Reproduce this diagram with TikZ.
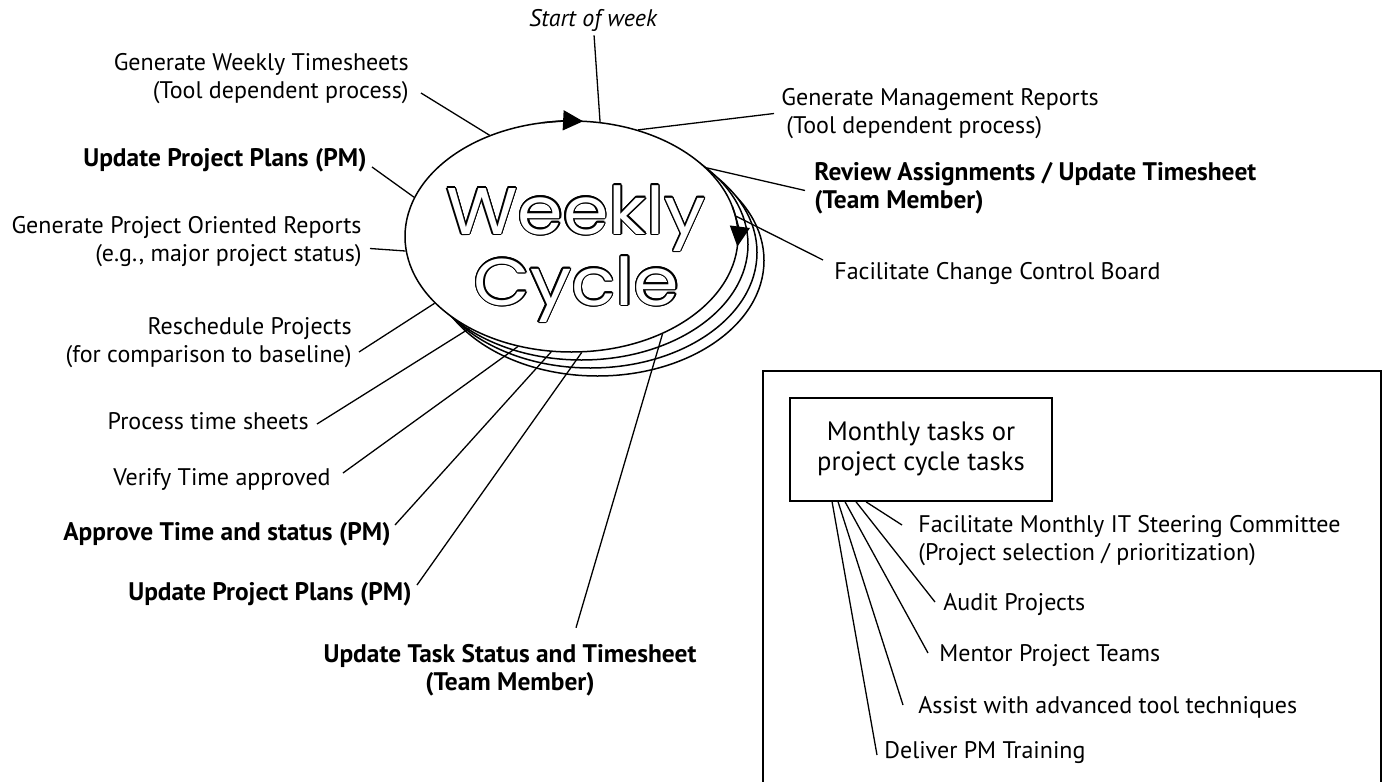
\documentclass[tikz,border=0pt]{standalone}
\usepackage{fontspec}
\setmainfont{PT Sans}
\newfontfamily\cyclefont[FakeStretch=1.11]{Poppins}
\usepackage{contour}
\contourlength{0.7pt}
\usetikzlibrary{shapes.geometric,arrows.meta}
\begin{document}
\begin{tikzpicture}[x=0.5pt,y=-0.5pt,
  task/.style={inner sep=2pt,font=\fontsize{12}{14}\selectfont},
  pmtask/.style={task,font=\fontsize{12.7}{14}\selectfont\bfseries},
  lead/.style={line width=0.65pt},
  rim/.style={line width=0.75pt,fill=white},
  turn/.style={line width=0.75pt,-{Triangle[length=10pt,width=10pt]}},
  bigword/.style={anchor=base,inner sep=0pt,font=\cyclefont\fontsize{33}{35}\selectfont}]
\useasboundingbox (0,0) rectangle (1382,782);
\coordinate (mid) at (571.5,236.5);
\draw[rim] ([shift={(26,24)}]mid) ellipse [x radius=83.25pt,y radius=57.75pt];
\draw[rim] ([shift={(19,16)}]mid) ellipse [x radius=83.25pt,y radius=57.75pt];
\draw[rim] ([shift={(10,8)}]mid) ellipse [x radius=83.25pt,y radius=57.75pt];
\node[ellipse,draw,rim,minimum width=166.5pt,minimum height=115.5pt,inner sep=0pt] (cycle) at (mid) {};
\draw[turn] ([shift={(100:83.25pt and 57.75pt)}]mid) arc [start angle=100,end angle=86,x radius=83.25pt,y radius=57.75pt];
\draw[turn] ([shift={(15:83.25pt and 57.75pt)}]mid) arc [start angle=15,end angle=-5,x radius=83.25pt,y radius=57.75pt];
\node[bigword] (wkly) at (576,234) {\contour{black}{\textcolor{white}{Weekly}}};
\node[bigword] (cycl) at (576.5,305) {\contour{black}{\textcolor{white}{Cycle}}};
\node[task] (wk) at (593,20) {\itshape Start of week};
\node[task,anchor=east,align=right] (gwt) at (413,79) {Generate Weekly Timesheets\\(Tool dependent process)};
\node[pmtask,anchor=east] (upp) at (371,160) {Update Project Plans (PM)};
\node[task,anchor=east,align=right] (gpor) at (366,241.5) {Generate Project Oriented Reports\\(e.g., major project status)};
\node[task,anchor=east,align=right] (resch) at (356,343) {Reschedule Projects\\(for comparison to baseline)};
\node[task,anchor=east] (pts) at (313,421) {Process time sheets};
\node[task,anchor=east] (vta) at (335,479) {Verify Time approved};
\node[pmtask,anchor=east] (ats) at (395,534) {Approve Time and status (PM)};
\node[pmtask,anchor=east] (upp2) at (416,594) {Update Project Plans (PM)};
\node[pmtask,align=center] (uts) at (510,670) {Update Task Status and Timesheet\\(Team Member)};
\node[task,anchor=west,align=left] (gmr) at (777,113.5) {Generate Management Reports\\\hspace*{2.5pt}(Tool dependent process)};
\node[pmtask,anchor=west,align=left] (rev) at (810,188.5) {Review Assignments / Update Timesheet\\(Team Member)};
\node[task,anchor=west] (ccb) at (830,273) {Facilitate Change Control Board};
\draw[lead] (wk) -- (cycle.76);
\draw[lead] ([shift={(8,14)}]gwt.east) -- (cycle.129);
\draw[lead] ([shift={(1,7)}]upp.east) -- (cycle.166);
\draw[lead] ([shift={(4,7)}]gpor.east) -- (cycle.185);
\draw[lead] ([shift={(3,9)}]resch.east) -- (cycle.206);
\draw[lead] ([shift={(4,3)}]pts.east) -- (cycle.222);
\draw[lead] ([shift={(8,-6)}]vta.east) -- (cycle.244);
\draw[lead] ([shift={(0,-9)}]ats.east) -- (cycle.260);
\draw[lead] ([shift={(1,-9)}]upp2.east) -- (cycle.275);
\draw[lead] ([shift={(66,-12)}]uts.north) -- (cycle.313);
\draw[lead] ([shift={(-3,0)}]gmr.west) -- (cycle.58);
\draw[lead] ([shift={(-5,2)}]rev.west) -- (cycle.27);
\draw[lead] ([shift={(-7,-13)}]ccb.west) -- (cycle.7);
\draw[line width=0.9pt] (763,371) rectangle (1381,790);
\node[task,draw,line width=0.9pt,minimum width=131pt,minimum height=51.5pt,align=center,font=\fontsize{13.3}{15}\selectfont] (mon) at (921,449.5) {Monthly tasks or\\project cycle tasks};
\node[task,anchor=west,align=left] (fmc) at (914,541) {Facilitate Monthly IT Steering Committee\\(Project selection / prioritization)};
\node[task,anchor=west] (aud) at (939,605) {Audit Projects};
\node[task,anchor=west] (mpt) at (935,656) {Mentor Project Teams};
\node[task,anchor=west] (awt) at (914,707) {Assist with advanced tool techniques};
\node[task,anchor=west] (dpt) at (880,753) {Deliver PM Training};
\draw[lead] ([shift={(77,0)}]mon.south west) -- ([shift={(-12,-16)}]fmc.west);
\draw[lead] ([shift={(67,0)}]mon.south west) -- ([shift={(-4,-3)}]aud.west);
\draw[lead] ([shift={(56,0)}]mon.south west) -- ([shift={(-7,-3)}]mpt.west);
\draw[lead] ([shift={(49,0)}]mon.south west) -- ([shift={(-11,-2)}]awt.west);
\draw[lead] ([shift={(43,0)}]mon.south west) -- ([shift={(-3,2)}]dpt.west);
\end{tikzpicture}
\end{document}
